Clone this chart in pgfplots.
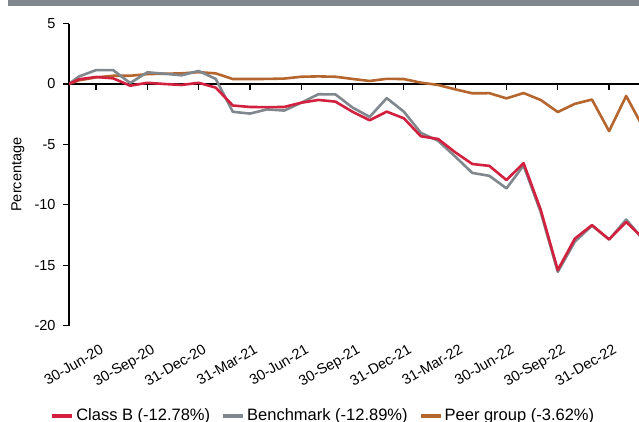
\documentclass[border=0pt]{standalone}
\usepackage{pgfplots}
\pgfplotsset{compat=1.18}
\usepackage{pgfplotstable}
\usepackage{fontspec}
\setmainfont{Liberation Sans}
\definecolor{classb}{HTML}{D2203F}
\definecolor{bench}{HTML}{80878D}
\definecolor{peer}{HTML}{B5652E}
\definecolor{topbar}{HTML}{80878D}

\pgfplotstableread{
m B Bench Peer
-1.58 0 0 0
-1 0.39 0.62 0.30
0 0.58 1.15 0.55
1 0.47 1.15 0.68
2 -0.14 0.08 0.68
3 0.10 0.97 0.82
4 0.00 0.85 0.85
5 -0.08 0.72 0.88
6 0.10 1.08 0.98
7 -0.30 0.42 0.88
8 -1.78 -2.30 0.41
9 -1.90 -2.45 0.41
10 -1.92 -2.10 0.42
11 -1.90 -2.20 0.45
12 -1.55 -1.55 0.60
13 -1.32 -0.85 0.63
14 -1.46 -0.86 0.60
15 -2.30 -1.95 0.42
16 -3.00 -2.72 0.25
17 -2.29 -1.17 0.43
18 -2.84 -2.29 0.41
19 -4.33 -4.05 0.11
20 -4.55 -4.70 -0.08
21 -5.65 -6.00 -0.44
22 -6.62 -7.36 -0.77
23 -6.78 -7.60 -0.76
24 -7.95 -8.64 -1.19
25 -6.55 -6.75 -0.75
26 -10.40 -10.60 -1.32
27 -15.40 -15.55 -2.32
28 -12.80 -13.05 -1.64
29 -11.68 -11.72 -1.29
30 -12.86 -12.88 -3.90
31 -11.42 -11.22 -0.99
32 -12.78 -12.89 -3.62
}\perf

\begin{document}
\begin{tikzpicture}[x=1pt,y=1pt]
\useasboundingbox (0,0) rectangle (639,421);
\fill[topbar] (8,415.3) rectangle (639,421);
% zero line with ticks
\begin{axis}[
  at={(69pt,95.4pt)}, anchor=south west,
  scale only axis, width=570pt, height=302pt,
  xmin=-1.58, xmax=31.75, ymin=-20, ymax=5,
  axis x line=middle, axis y line=none,
  x axis line style={-, line width=1.2pt, black},
  xtick={0,3,...,30}, xticklabels={},
  major tick length=6pt,
  x tick style={line width=1.2pt, black, yshift=-3pt},
]
\addplot[draw=none] coordinates {(0,0)};
\end{axis}
\begin{axis}[
  at={(69pt,95.4pt)}, anchor=south west,
  scale only axis, width=570pt, height=302pt,
  xmin=-1.58, xmax=31.75, ymin=-20, ymax=5,
  axis y line=left, axis x line=bottom,
  y axis line style={-, line width=1.5pt, black},
  x axis line style={draw=none},
  x tick style={draw=none},
  y tick style={line width=1.2pt, black},
  tick align=outside, major tick length=6pt,
  ytick={-20,-15,...,5},
  xtick={0,3,...,30},
  xticklabels={30-Jun-20,30-Sep-20,31-Dec-20,31-Mar-21,30-Jun-21,30-Sep-21,31-Dec-21,31-Mar-22,30-Jun-22,30-Sep-22,31-Dec-22},
  xticklabel style={rotate=30, anchor=north east, inner sep=0pt, xshift=-3pt, yshift=-12pt, font=\fontsize{14.5}{16}\selectfont},
  yticklabel style={font=\fontsize{14.5}{16}\selectfont, xshift=-4pt},
  /pgf/number format/assume math mode=true,
  ylabel={Percentage},
  ylabel style={at={(axis description cs:-0.0895,0.5)}, anchor=center, font=\fontsize{14.5}{16}\selectfont},
  clip=true,
  legend columns=3,
  reverse legend,
  legend style={at={(axis description cs:0.446,-0.298)}, anchor=center, draw=none, fill=none,
    font=\fontsize{16.5}{18}\selectfont, inner sep=0pt,
    /tikz/every even column/.append style={column sep=9pt}},
  legend image code/.code={\draw[#1, line width=4pt] (0pt,0pt) -- (20pt,0pt);},
  every axis plot/.append style={line join=round},
]
\addplot[peer, line width=2.6pt] table[x=m,y=Peer]{\perf};
\addlegendentry{Peer group (-3.62\%)}
\addplot[bench, line width=2.6pt] table[x=m,y=Bench]{\perf};
\addlegendentry{Benchmark (-12.89\%)}
\addplot[classb, line width=2.6pt] table[x=m,y=B]{\perf};
\addlegendentry{Class B (-12.78\%)}
\end{axis}
\end{tikzpicture}
\end{document}
